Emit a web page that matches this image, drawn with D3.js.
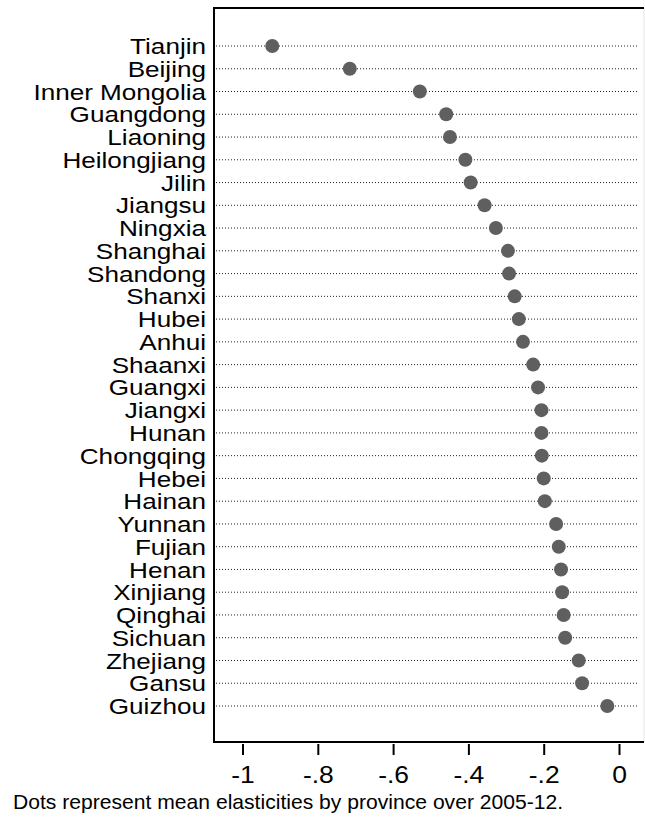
<!DOCTYPE html>
<html>
<head>
<meta charset="utf-8">
<script src="https://cdn.jsdelivr.net/npm/d3@7"></script>
<style>
  html, body { margin: 0; padding: 0; background: #fff; }
  svg { display: block; font-family: "Liberation Sans", Arial, sans-serif; }
</style>
</head>
<body>
<svg id="chart" width="645" height="822"></svg>
<script>
// Provinces, top to bottom, and their mean elasticities (2005-12)
const provinces = [
  "Tianjin", "Beijing", "Inner Mongolia", "Guangdong", "Liaoning",
  "Heilongjiang", "Jilin", "Jiangsu", "Ningxia", "Shanghai",
  "Shandong", "Shanxi", "Hubei", "Anhui", "Shaanxi",
  "Guangxi", "Jiangxi", "Hunan", "Chongqing", "Hebei",
  "Hainan", "Yunnan", "Fujian", "Henan", "Xinjiang",
  "Qinghai", "Sichuan", "Zhejiang", "Gansu", "Guizhou"
];
const elasticities = [
  -0.921, -0.715, -0.529, -0.459, -0.449,
  -0.408, -0.394, -0.357, -0.327, -0.295,
  -0.292, -0.277, -0.266, -0.255, -0.228,
  -0.215, -0.206, -0.206, -0.205, -0.200,
  -0.197, -0.167, -0.160, -0.154, -0.151,
  -0.147, -0.143, -0.107, -0.098, -0.031
];
const tickValues = [-1, -0.8, -0.6, -0.4, -0.2, 0];
const tickLabels = ["-1", "-.8", "-.6", "-.4", "-.2", "0"];
const caption = "Dots represent mean elasticities by province over 2005-12.";

const svg = d3.select("#chart");

const box = { left: 214, top: 8, right: 644, bottom: 742 };

const x = d3.scaleLinear().domain([-1, 0]).range([242.5, 619]);
const y = d3.scalePoint().domain(provinces).range([46, 706]);

const rows = provinces.map((p, i) => ({ name: p, value: elasticities[i] }));

// dotted guide lines
svg.append("g")
  .selectAll("line")
  .data(rows)
  .join("line")
  .attr("x1", box.left + 2)
  .attr("x2", 637)
  .attr("y1", d => y(d.name))
  .attr("y2", d => y(d.name))
  .attr("stroke", "#222")
  .attr("stroke-width", 1)
  .attr("stroke-dasharray", "1,2");

// plot frame
const frame = svg.append("g");
frame.append("line").attr("x1", box.right).attr("x2", box.right)
  .attr("y1", box.top).attr("y2", box.bottom)
  .attr("stroke", "#e4e4e4").attr("stroke-width", 1);
frame.append("path")
  .attr("d", `M${box.right},${box.top}H${box.left}V${box.bottom}H${box.right}`)
  .attr("fill", "none")
  .attr("stroke", "#000")
  .attr("stroke-width", 2);

// points
svg.append("g")
  .selectAll("circle")
  .data(rows)
  .join("circle")
  .attr("cx", d => x(d.value))
  .attr("cy", d => y(d.name))
  .attr("r", 7)
  .attr("fill", "#5f5f5f");

// province labels (glyphs drawn slightly wide)
svg.append("g")
  .selectAll("text")
  .data(rows)
  .join("text")
  .attr("transform", d => `translate(206,${y(d.name)}) scale(1.16,1)`)
  .attr("dy", "0.36em")
  .attr("text-anchor", "end")
  .attr("font-size", 22.5)
  .attr("fill", "#000")
  .text(d => d.name);

// x axis
const xAxis = d3.axisBottom(x)
  .tickValues(tickValues)
  .tickFormat((d, i) => tickLabels[i])
  .tickSize(11)
  .tickSizeOuter(0);

const axisY = box.bottom + 2;
const ax = svg.append("g")
  .attr("transform", `translate(0,${axisY})`)
  .call(xAxis);
ax.select(".domain").remove();
ax.selectAll(".tick line").attr("stroke", "#000").attr("stroke-width", 2);
ax.selectAll(".tick text")
  .attr("y", 0)
  .attr("dy", 0)
  .attr("transform", `translate(0,${783 - axisY}) scale(1.15,1)`)
  .attr("fill", "#000")
  .attr("font-size", 23)
  .attr("font-family", "Liberation Sans, Arial, sans-serif");

// caption
svg.append("text")
  .attr("transform", "translate(13,809) scale(1.03,1)")
  .attr("font-size", 20.5)
  .attr("fill", "#000")
  .text(caption);
</script>
</body>
</html>
